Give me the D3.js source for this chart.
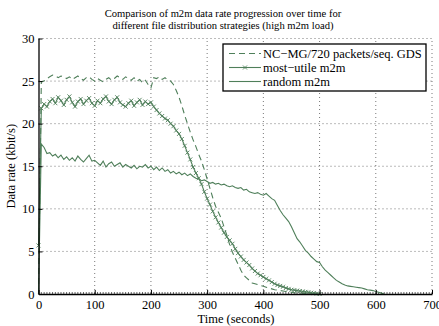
<!DOCTYPE html>
<html>
<head>
<meta charset="utf-8">
<script src="https://cdn.jsdelivr.net/npm/d3@7"></script>
<style>
  body { margin: 0; background: #fff; }
</style>
</head>
<body>
<div id="chart"></div>
<script>
// sampling step of the traces (seconds)
var step = 5;

var xTicks = [0, 100, 200, 300, 400, 500, 600, 700];
var yTicks = [0, 5, 10, 15, 20, 25, 30];

var titleLines = ["Comparison of m2m data rate progression over time for",
                  "different file distribution strategies (high m2m load)"];

var legendLabels = ["NC\u2212MG/720 packets/seq. GDS", "most\u2212utile m2m", "random m2m"];

// NC-MG / 720 packets / seq. GDS (dashed)
var ncmgRate = [0, 24.9, 25.0, 25.3, 25.5, 25.7, 25.6, 25.4, 25.6, 25.5,
    25.3, 25.5, 25.2, 25.4, 25.6, 25.3, 25.1, 25.4, 25.5, 25.2,
    25.0, 25.3, 25.1, 24.9, 25.2, 25.4, 25.1, 25.3, 25.6, 25.4,
    25.2, 25.5, 25.3, 25.1, 25.4, 25.0, 25.2, 24.8, 25.1, 24.6,
    24.2, 25.4, 25.3, 25.5, 25.2, 25.4, 25.1, 25.0, 24.6, 23.9,
    23.1, 22.1, 21.0, 20.0, 19.0, 18.1, 17.3, 16.4, 15.6, 14.6,
    13.5, 12.4, 11.3, 10.3, 9.6, 8.9, 7.9, 6.9, 5.8, 4.9,
    4.2, 3.5, 2.8, 2.2, 1.9, 1.6, 1.3, 1.2, 1.1, 1.0,
    0.9, 0.8, 0.7, 0.6, 0.5, 0.45, 0.4, 0.35, 0.3, 0.25,
    0.2, 0.15, 0.12, 0.1, 0.08, 0.05, 0.03, 0.02, 0];

// most-utile m2m (x markers)
var utileRate = [5.7, 21.8, 22.3, 22.0, 22.6, 22.9, 22.4, 23.1, 22.7, 22.2,
    22.8, 23.2, 22.5, 22.0, 22.6, 22.9, 22.3, 22.7, 23.0, 22.4,
    22.1, 22.7, 22.4, 22.9, 23.2, 22.6, 22.3, 22.8, 23.1, 22.5,
    22.2, 22.0, 22.4, 22.7, 22.1, 22.5, 22.8, 22.2, 22.6, 22.3,
    22.5, 22.0, 21.6, 21.2, 20.9, 20.6, 20.4, 20.0, 19.7, 19.2,
    18.8, 18.2, 17.4, 16.6, 15.8, 14.9, 14.2, 13.6, 12.9, 12.0,
    11.2, 10.5, 9.7, 9.0, 8.4, 7.8, 7.2, 6.7, 6.3, 5.9,
    5.3, 4.8, 4.4, 4.0, 3.7, 3.4, 3.0, 2.7, 2.4, 2.2,
    2.0, 1.8, 1.6, 1.4, 1.2, 1.05, 0.95, 0.85, 0.7, 0.6,
    0.5, 0.45, 0.4, 0.35, 0.3, 0.25, 0.2, 0.15, 0.1, 0.05, 0];

// random m2m (solid)
var randomRate = [0, 17.6, 17.2, 16.5, 16.6, 16.2, 16.4, 16.0, 16.3, 15.8,
    16.1, 15.7, 16.0, 15.6, 16.2, 15.8, 15.5, 15.9, 16.3, 15.6,
    15.7, 15.4, 15.1, 15.6, 14.9, 15.3, 15.5, 15.0, 15.2, 15.4,
    14.9, 15.2, 15.0, 14.8, 15.1, 14.7, 15.0, 14.9, 15.2, 14.8,
    15.0, 14.6, 14.9, 14.5, 14.8, 14.4, 14.6, 14.2, 14.4, 14.1,
    14.3, 14.0, 14.2, 13.9, 14.1, 13.8, 13.6, 13.5, 13.3, 13.4,
    13.2, 13.0, 13.1, 12.9, 13.0, 12.8, 12.9, 12.7, 12.6, 12.7,
    12.5, 12.4, 12.5, 12.2, 12.3, 12.0, 11.9, 11.8, 11.9, 11.7,
    11.6, 11.8, 11.5, 11.2, 11.0, 10.4, 9.8, 9.3, 8.9, 8.5,
    7.9, 7.2, 6.5, 6.1, 5.6, 5.1, 4.8, 4.4, 4.1, 3.8,
    3.7, 3.2, 2.8, 2.5, 2.2, 1.9, 1.6, 1.4, 1.2, 1.05,
    0.95, 0.9, 0.85, 0.8, 0.75, 0.7, 0.6, 0.5, 0.45, 0.4,
    0.3, 0.2, 0.1, 0];

var green = "#4f7f5a";
var serif = "'Liberation Serif', 'Times New Roman', Times, 'DejaVu Serif', serif";

var width = 439, height = 326;
var margin = {top: 38.5, right: 7, bottom: 32, left: 38.5};

var svg = d3.select("#chart").append("svg")
    .attr("width", width).attr("height", height)
    .attr("font-family", serif);

var xScale = d3.scaleLinear().domain([0, 700]).range([margin.left, width - margin.right]);
var yScale = d3.scaleLinear().domain([0, 30]).range([height - margin.bottom, margin.top]);

function toPoints(arr) {
    return arr.map(function(v, i) { return {"time": i * step, "value": v}; });
}

// dotted grid
var grid = svg.append("g").attr("class", "grid");
grid.selectAll(".vgrid")
    .data(xTicks.slice(1))
    .enter().append("line")
    .attr("x1", function(d) { return xScale(d); })
    .attr("x2", function(d) { return xScale(d); })
    .attr("y1", yScale(0)).attr("y2", yScale(30))
    .attr("stroke", "#555").attr("stroke-width", 0.8)
    .attr("stroke-dasharray", "1,3");
grid.selectAll(".hgrid")
    .data(yTicks.slice(1))
    .enter().append("line")
    .attr("y1", function(d) { return yScale(d); })
    .attr("y2", function(d) { return yScale(d); })
    .attr("x1", xScale(0)).attr("x2", xScale(700))
    .attr("stroke", "#555").attr("stroke-width", 0.8)
    .attr("stroke-dasharray", "1,3");

// minor ticks on the time axis
svg.append("g")
    .selectAll("line")
    .data(d3.range(0, 701, 5))
    .enter().append("line")
    .attr("x1", function(d) { return xScale(d); })
    .attr("x2", function(d) { return xScale(d); })
    .attr("y1", yScale(0)).attr("y2", yScale(0) - 2)
    .attr("stroke", "#222").attr("stroke-width", 0.7);

var line = d3.line()
    .x(function(d) { return xScale(d["time"]); })
    .y(function(d) { return yScale(d["value"]); });

var series = svg.append("g").attr("class", "series");

series.append("path")
    .datum(toPoints(randomRate))
    .attr("d", line)
    .attr("fill", "none")
    .attr("stroke", green)
    .attr("stroke-width", 1.1);

series.append("path")
    .datum(toPoints(ncmgRate))
    .attr("d", line)
    .attr("fill", "none")
    .attr("stroke", green)
    .attr("stroke-width", 1.1)
    .attr("stroke-dasharray", "6,4");

var utilePoints = toPoints(utileRate);
series.append("path")
    .datum(utilePoints)
    .attr("d", line)
    .attr("fill", "none")
    .attr("stroke", green)
    .attr("stroke-width", 1.1);

var cross = "M-2,-2L2,2M-2,2L2,-2";
series.selectAll(".dot")
    .data(utilePoints)
    .enter().append("path")
    .attr("class", "dot")
    .attr("d", cross)
    .attr("transform", function(d) { return "translate(" + xScale(d["time"]) + "," + yScale(d["value"]) + ")"; })
    .attr("stroke", green)
    .attr("stroke-width", 0.9)
    .attr("fill", "none");

// axes
var xAxis = svg.append("g")
    .attr("transform", "translate(0," + yScale(0) + ")")
    .call(d3.axisBottom(xScale).tickValues(xTicks).tickSizeInner(-4).tickSizeOuter(0).tickPadding(6));
var yAxis = svg.append("g")
    .attr("transform", "translate(" + xScale(0) + ",0)")
    .call(d3.axisLeft(yScale).tickValues(yTicks).tickSizeInner(-4).tickSizeOuter(0).tickPadding(4));

[xAxis, yAxis].forEach(function(ax) {
    ax.attr("font-family", serif).attr("font-size", 12.5);
    ax.select(".domain").attr("stroke", "#000").attr("stroke-width", 1.3);
    ax.selectAll(".tick line").attr("stroke", "#000");
    ax.selectAll(".tick text").attr("fill", "#000");
});

// title
svg.append("g").selectAll("text")
    .data(titleLines)
    .enter().append("text")
    .attr("x", 223)
    .attr("y", function(d, i) { return 16.5 + i * 12.5; })
    .attr("text-anchor", "middle")
    .attr("font-size", 10.6)
    .text(function(d) { return d; });

// axis labels
svg.append("text")
    .attr("x", 236).attr("y", 322.5)
    .attr("text-anchor", "middle")
    .attr("font-size", 12.5)
    .text("Time (seconds)");

svg.append("text")
    .attr("transform", "translate(15," + yScale(15) + ") rotate(-90)")
    .attr("text-anchor", "middle")
    .attr("font-size", 12.5)
    .text("Data rate (kbit/s)");

// legend
var legend = svg.append("g").attr("transform", "translate(223,44)");
legend.append("rect")
    .attr("width", 203).attr("height", 47)
    .attr("fill", "#fff").attr("stroke", "#000").attr("stroke-width", 1.3);

var rows = legend.selectAll(".row")
    .data(legendLabels)
    .enter().append("g")
    .attr("transform", function(d, i) { return "translate(0," + (9.5 + i * 14) + ")"; });

rows.append("line")
    .attr("x1", 6).attr("x2", 38)
    .attr("stroke", green).attr("stroke-width", 1.1)
    .attr("stroke-dasharray", function(d, i) { return i == 0 ? "6,4" : null; });

rows.filter(function(d, i) { return i == 1; })
    .append("path")
    .attr("d", cross)
    .attr("transform", "translate(22,0)")
    .attr("stroke", green).attr("fill", "none").attr("stroke-width", 0.9);

rows.append("text")
    .attr("x", 40).attr("dy", "0.33em")
    .attr("font-size", 12.5)
    .text(function(d) { return d; });
</script>
</body>
</html>
